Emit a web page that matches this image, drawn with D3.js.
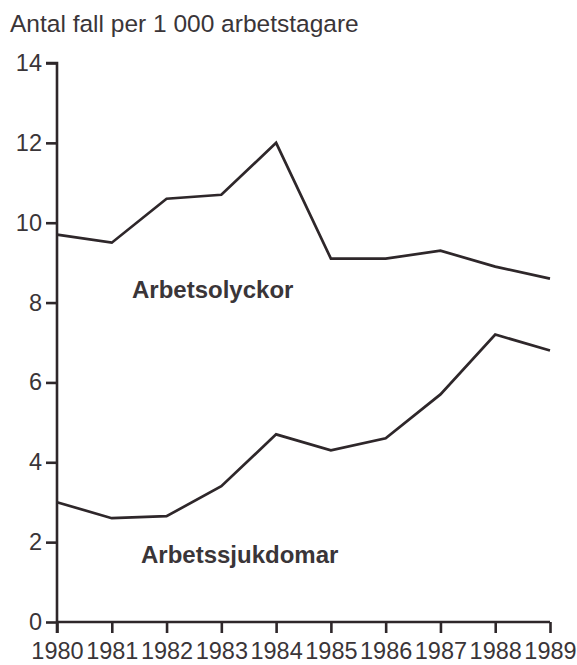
<!DOCTYPE html>
<html>
<head>
<meta charset="utf-8">
<script src="https://cdn.jsdelivr.net/npm/d3@7/dist/d3.min.js"></script>
<style>
  html, body { margin: 0; padding: 0; background: #ffffff; }
  svg { display: block; font-family: "Liberation Sans", Arial, Helvetica, sans-serif; }
</style>
</head>
<body>
<svg id="chart" width="577" height="665"></svg>
<script>
// Cases per 1 000 employees, Sweden 1980–1989
const years = [1980, 1981, 1982, 1983, 1984, 1985, 1986, 1987, 1988, 1989];
const olyckor = [9.7, 9.5, 10.6, 10.7, 12.0, 9.1, 9.1, 9.3, 8.9, 8.6];
const sjukdomar = [3.0, 2.6, 2.65, 3.4, 4.7, 4.3, 4.6, 5.7, 7.2, 6.8];
const yTicks = [0, 2, 4, 6, 8, 10, 12, 14];
const titleText = "Antal fall per 1 000 arbetstagare";
const seriesLabels = ["Arbetsolyckor", "Arbetssjukdomar"];

const ink = "#2e272a";
const textInk = "#3a3538";

const svg = d3.select("#chart");

const x = d3.scaleLinear().domain([1980, 1989]).range([57, 550]);
const y = d3.scaleLinear().domain([0, 14]).range([622, 63]);

// title
svg.append("text")
  .attr("x", 10).attr("y", 32)
  .attr("font-size", 24.5)
  .attr("fill", textInk)
  .text(titleText);

// y axis
const yAxis = svg.append("g")
  .attr("transform", `translate(${x(1980)},0)`)
  .call(d3.axisLeft(y).tickValues(yTicks).tickSize(11).tickPadding(4).tickFormat(d3.format("d")));

// x axis
const xAxis = svg.append("g")
  .attr("transform", `translate(0,${y(0)})`)
  .call(d3.axisBottom(x).tickValues(years).tickSize(11).tickPadding(9).tickFormat(d3.format("d")));

[yAxis, xAxis].forEach(g => {
  g.select(".domain").attr("stroke", ink).attr("stroke-width", 2.6);
  g.selectAll(".tick line").attr("stroke", ink).attr("stroke-width", 2.6);
  g.selectAll(".tick text")
    .attr("fill", textInk)
    .attr("font-size", 23.5)
    .attr("font-family", "\"Liberation Sans\", Arial, Helvetica, sans-serif");
});
// y axis line runs from the top tick down through the first year tick
yAxis.select(".domain").attr("d", `M-11,${y(14)}H0V${y(0) + 11}`);
xAxis.select(".domain").attr("d", `M${x(1980)},0H${x(1989)}`);

// series lines
const line = d3.line()
  .x((d, i) => x(years[i]))
  .y(d => y(d));

[olyckor, sjukdomar].forEach(values => {
  svg.append("path")
    .datum(values)
    .attr("fill", "none")
    .attr("stroke", ink)
    .attr("stroke-width", 2.7)
    .attr("stroke-linejoin", "miter")
    .attr("d", line);
});

// series labels
svg.append("text")
  .attr("x", 132).attr("y", 298)
  .attr("font-size", 24)
  .attr("font-weight", "bold")
  .attr("fill", textInk)
  .text(seriesLabels[0]);

svg.append("text")
  .attr("x", 141).attr("y", 563)
  .attr("font-size", 24)
  .attr("font-weight", "bold")
  .attr("fill", textInk)
  .text(seriesLabels[1]);
</script>
</body>
</html>
